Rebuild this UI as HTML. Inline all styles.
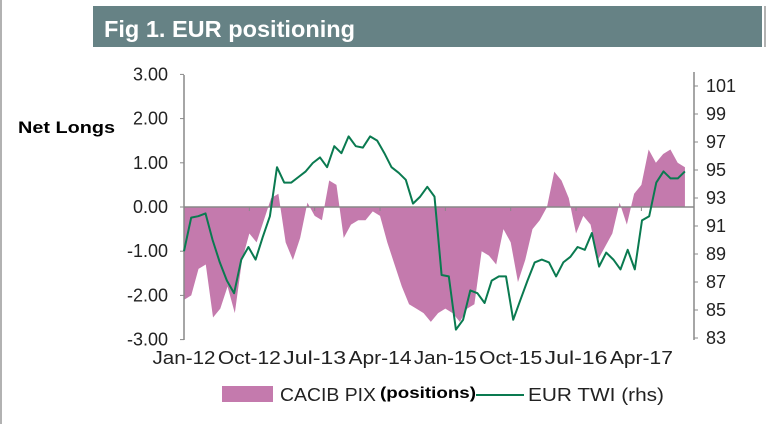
<!DOCTYPE html>
<html><head><meta charset="utf-8"><style>
body{margin:0;width:770px;height:424px;background:#fff;overflow:hidden;font-family:"Liberation Sans",sans-serif}
</style></head><body>
<svg width="770" height="424">
<line x1="1" y1="0" x2="1" y2="424" stroke="#666" stroke-width="1"/>
<rect x="93" y="6" width="669" height="41" fill="#668285"/>
<line x1="765" y1="6" x2="765" y2="47" stroke="#666"/>
<text x="104" y="37" fill="#fff" font-size="23" font-weight="bold" textLength="251" lengthAdjust="spacingAndGlyphs">Fig 1. EUR positioning</text>
<text x="18" y="133" font-size="17" font-weight="bold" fill="#000" textLength="97" lengthAdjust="spacingAndGlyphs">Net Longs</text>
<g id="plot"></g>
<rect x="222" y="386" width="51" height="16" fill="#c47aad"/>
<text x="280" y="401" font-size="18" fill="#222" textLength="96" lengthAdjust="spacingAndGlyphs">CACIB PIX</text>
<text x="380" y="398" font-size="16" font-weight="bold" fill="#000" textLength="96" lengthAdjust="spacingAndGlyphs">(positions)</text>
<line x1="476" y1="395" x2="524" y2="395" stroke="#0a7a50" stroke-width="2"/>
<text x="528" y="401" font-size="18" fill="#222" textLength="136" lengthAdjust="spacingAndGlyphs">EUR TWI (rhs)</text>
</svg>
<script>
const xLabels=["Jan-12","Oct-12","Jul-13","Apr-14","Jan-15","Oct-15","Jul-16","Apr-17"];
const leftTicks=["3.00","2.00","1.00","0.00","-1.00","-2.00","-3.00"];
const rightTicks=[101,99,97,95,93,91,89,87,85,83];
const pix=[-2.1,-2.0,-1.4,-1.3,-2.5,-2.3,-1.8,-2.4,-1.2,-0.6,-0.8,-0.3,0.2,0.3,-0.8,-1.2,-0.7,0.1,-0.2,-0.3,0.6,0.5,-0.7,-0.4,-0.3,-0.3,-0.1,-0.2,-0.8,-1.3,-1.8,-2.2,-2.3,-2.4,-2.6,-2.4,-2.3,-2.4,-2.6,-2.3,-2.2,-1.0,-1.1,-1.3,-0.5,-0.8,-1.7,-1.2,-0.5,-0.3,0.0,0.8,0.6,0.2,-0.6,-0.2,-0.4,-1.2,-0.9,-0.6,0.1,-0.4,0.3,0.5,1.3,1.0,1.2,1.3,1.0,0.9];
const twi=[89.2,91.6,91.7,91.9,90.0,88.4,87.1,86.2,88.6,89.5,88.6,90.2,91.7,95.2,94.1,94.1,94.5,94.9,95.5,95.9,95.2,96.7,96.2,97.4,96.7,96.6,97.4,97.1,96.2,95.2,94.8,94.3,92.6,93.1,93.8,93.1,87.5,87.4,83.6,84.3,86.4,86.2,85.5,87.1,87.4,87.4,84.3,85.7,87.1,88.4,88.6,88.4,87.4,88.4,88.8,89.5,89.3,90.5,88.1,89.1,88.6,87.9,89.3,87.9,91.4,91.7,94.1,94.9,94.4,94.4,94.9];
const NS="http://www.w3.org/2000/svg";
const g=document.getElementById('plot');
const X=m=>184+m*7.26;
const YL=v=>207-v*44.2;
const YR=v=>198-(v-93)*14;
function mk(t,a){const e=document.createElementNS(NS,t);for(const k in a)e.setAttribute(k,a[k]);g.appendChild(e);return e;}
let d="M"+X(0)+","+YL(0);
pix.forEach((v,i)=>{d+=" L"+X(i)+","+YL(v);});
d+=" L"+X(pix.length-1)+","+YL(0)+" Z";
let a=mk('path',{d:d,fill:'#c47aad'});


let ax=mk('line',{x1:184,y1:75,x2:184,y2:340,stroke:'#888','stroke-width':1.5});


let ar=mk('line',{x1:694,y1:72,x2:694,y2:340,stroke:'#888','stroke-width':1.5});


let z=mk('line',{x1:184,y1:YL(0),x2:694,y2:YL(0),stroke:'#888','stroke-width':1.5});


leftTicks.forEach(t=>{const y=YL(parseFloat(t));
 mk('line',{x1:180,y1:y,x2:184,y2:y,stroke:'#888'});
 const e=mk('text',{x:168,y:y+6,'text-anchor':'end','font-size':18,fill:'#222'});e.textContent=t;
 
 });
rightTicks.forEach(t=>{const y=YR(t);
 mk('line',{x1:694,y1:y,x2:698,y2:y,stroke:'#888'});
 const e=mk('text',{x:706,y:y+6,'font-size':18,fill:'#222'});e.textContent=t;
 
 });
xLabels.forEach((t,i)=>{const x=X(i*9);
 mk('line',{x1:x,y1:YL(0),x2:x,y2:YL(0)+4,stroke:'#888'});
 const e=mk('text',{x:x,y:364,'text-anchor':'middle','font-size':18,fill:'#222',textLength:63,lengthAdjust:'spacingAndGlyphs'});e.textContent=t;
 
 });
const pl=mk('polyline',{points:twi.map((v,i)=>X(i*69/70).toFixed(1)+","+YR(v).toFixed(1)).join(" "),fill:'none',stroke:'#0a7a50','stroke-width':2,'stroke-linejoin':'round'});


</script>
</body></html>
